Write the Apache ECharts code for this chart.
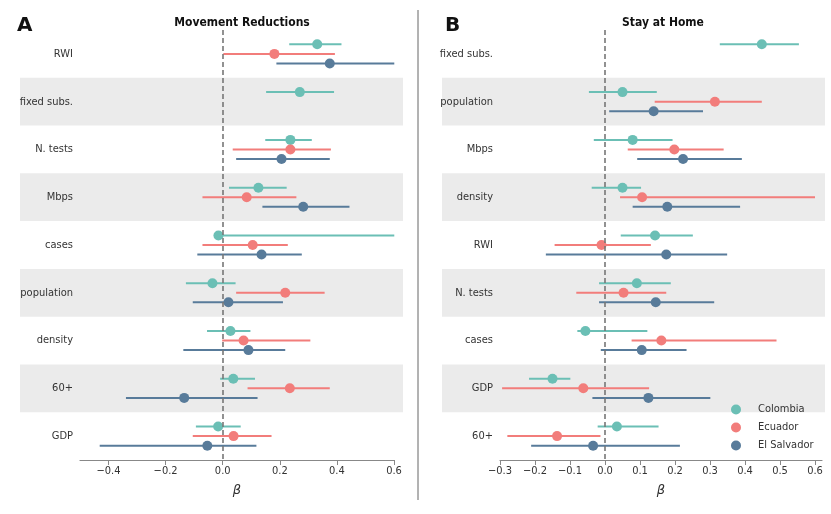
<!DOCTYPE html>
<html>
<head>
<meta charset="utf-8">
<script src="https://cdn.jsdelivr.net/npm/echarts@6/dist/echarts.min.js"></script>
<style>
  html, body { margin: 0; padding: 0; background: #fff; }
  #chart { width: 831px; height: 514px; }
</style>
</head>
<body>
<div id="chart"></div>
<script>
// categories, top to bottom
var catsA = ['RWI', 'fixed subs.', 'N. tests', 'Mbps', 'cases', 'population', 'density', '60+', 'GDP'];
var catsB = ['fixed subs.', 'population', 'Mbps', 'density', 'RWI', 'N. tests', 'cases', 'GDP', '60+'];

var countries = ['Colombia', 'Ecuador', 'El Salvador'];
var colors = ['#6bbfb5', '#f27d7b', '#587b9a'];

// A - Movement Reductions
var colA_mid = [0.331, 0.270, 0.237, 0.125, -0.015, -0.036, 0.027, 0.037, -0.016];
var colA_lo  = [0.233, 0.152, 0.149, 0.022, -0.029, -0.129, -0.055, -0.009, -0.094];
var colA_hi  = [0.416, 0.390, 0.312, 0.224, 0.601, 0.045, 0.097, 0.113, 0.063];

var ecuA_mid = [0.181, null, 0.237, 0.084, 0.105, 0.219, 0.073, 0.235, 0.038];
var ecuA_lo  = [0.002, null, 0.035, -0.071, -0.071, 0.047, -0.002, 0.087, -0.105];
var ecuA_hi  = [0.393, null, 0.379, 0.258, 0.228, 0.357, 0.307, 0.375, 0.171];

var slvA_mid = [0.375, null, 0.206, 0.282, 0.136, 0.020, 0.090, -0.135, -0.054];
var slvA_lo  = [0.188, null, 0.047, 0.139, -0.089, -0.105, -0.138, -0.339, -0.431];
var slvA_hi  = [0.601, null, 0.375, 0.444, 0.277, 0.211, 0.219, 0.122, 0.118];

// B - Stay at Home
var colB_mid = [0.448, 0.050, 0.079, 0.050, 0.143, 0.091, -0.056, -0.150, 0.034];
var colB_lo  = [0.328, -0.046, -0.032, -0.038, 0.045, -0.017, -0.079, -0.217, -0.021];
var colB_hi  = [0.554, 0.148, 0.193, 0.103, 0.251, 0.188, 0.121, -0.099, 0.153];

var ecuB_mid = [null, 0.314, 0.198, 0.106, -0.010, 0.053, 0.161, -0.062, -0.137];
var ecuB_lo  = [null, 0.142, 0.065, 0.043, -0.144, -0.082, 0.076, -0.294, -0.279];
var ecuB_hi  = [null, 0.448, 0.339, 0.600, 0.131, 0.175, 0.490, 0.126, -0.013];

var slvB_mid = [null, 0.139, 0.223, 0.178, 0.175, 0.145, 0.105, 0.124, -0.034];
var slvB_lo  = [null, 0.012, 0.092, 0.079, -0.169, -0.017, -0.012, -0.036, -0.211];
var slvB_hi  = [null, 0.280, 0.391, 0.386, 0.349, 0.312, 0.233, 0.301, 0.214];

var ticksA = [-0.4, -0.2, 0.0, 0.2, 0.4, 0.6];
var ticksB = [-0.3, -0.2, -0.1, 0.0, 0.1, 0.2, 0.3, 0.4, 0.5, 0.6];

var offsets = [-0.2, 0, 0.2];   // vertical offset of each country inside a row

var FONT = "'Liberation Sans Narrow', 'DejaVu Sans Condensed', sans-serif";

var chart = echarts.init(document.getElementById('chart'));

function fmtTick(v) {
    return v.toFixed(1).replace('-', '\u2212');
}

function barData(lo, hi, k) {
    var out = [];
    for (var i = 0; i < lo.length; i++) {
        if (lo[i] == null) continue;
        out.push([lo[i], hi[i], i + offsets[k]]);
    }
    return out;
}

function dotData(mid, k) {
    var out = [];
    for (var i = 0; i < mid.length; i++) {
        if (mid[i] == null) continue;
        out.push([mid[i], i + offsets[k]]);
    }
    return out;
}

function bandAxes(cats, gi) {
    return {
        type: 'category', gridIndex: gi, data: cats, inverse: true,
        axisLine: { show: false }, axisTick: { show: false }, axisLabel: { show: false },
        splitLine: { show: false },
        splitArea: { show: true, areaStyle: { color: ['rgba(0,0,0,0)', '#ebebeb'] } }
    };
}

function labelAxis(cats, gi) {
    return {
        type: 'category', gridIndex: gi, data: cats, inverse: true,
        axisLine: { show: false }, axisTick: { show: false },
        axisLabel: { margin: 7, color: '#333', fontSize: 11, fontFamily: FONT },
        splitLine: { show: false }
    };
}

function valueYAxis(gi) {
    return { type: 'value', gridIndex: gi, min: -0.5, max: 8.5, inverse: true, show: false };
}

function dataXAxis(gi, min, max, ticks) {
    return {
        type: 'value', gridIndex: gi, min: min, max: max,
        name: '\u03b2', nameLocation: 'middle', nameGap: 24,
        nameTextStyle: { fontStyle: 'italic', fontSize: 13, color: '#333', fontFamily: 'DejaVu Sans' },
        axisLine: { show: true, onZero: false, lineStyle: { color: '#888', width: 1.2 } },
        axisTick: { show: true, length: 5, customValues: ticks, lineStyle: { color: '#888' } },
        axisLabel: { customValues: ticks, formatter: fmtTick, color: '#333', fontSize: 11, fontFamily: FONT, margin: 6 },
        splitLine: { show: false }
    };
}

function panelSeries(mids, los, his, xi, yi) {
    var out = [];
    for (var k = 0; k < 3; k++) {
        (function (k) {
            out.push({
                name: countries[k],
                type: 'custom',
                xAxisIndex: xi, yAxisIndex: yi,
                encode: { x: [0, 1], y: 2 },
                itemStyle: { color: colors[k] },
                data: barData(los[k], his[k], k),
                renderItem: function (params, api) {
                    var a = api.coord([api.value(0), api.value(2)]);
                    var b = api.coord([api.value(1), api.value(2)]);
                    return {
                        type: 'line',
                        shape: { x1: a[0], y1: a[1], x2: b[0], y2: b[1] },
                        style: { stroke: colors[k], lineWidth: 2 }
                    };
                },
                z: 2
            });
            var s = {
                name: countries[k],
                type: 'scatter',
                xAxisIndex: xi, yAxisIndex: yi,
                symbol: 'circle', symbolSize: 10,
                itemStyle: { color: colors[k], opacity: 1 },
                data: dotData(mids[k], k),
                z: 3
            };
            if (k == 0) {
                s.markLine = {
                    silent: true, symbol: 'none', label: { show: false },
                    lineStyle: { color: '#777', type: [5, 3], width: 1.6 },
                    data: [{ xAxis: 0 }]
                };
            }
            out.push(s);
        })(k);
    }
    return out;
}

var option = {
    backgroundColor: '#fff',
    animation: false,
    textStyle: { fontFamily: FONT },
    title: [
        { text: 'A', left: 12, top: 11, textStyle: { fontSize: 20, fontWeight: 'bold', color: '#111', fontFamily: 'DejaVu Sans' } },
        { text: 'B', left: 440, top: 11, textStyle: { fontSize: 20, fontWeight: 'bold', color: '#111', fontFamily: 'DejaVu Sans' } },
        { text: 'Movement Reductions', left: 237, top: 12, textAlign: 'center', textStyle: { fontSize: 12, fontWeight: 'bold', color: '#111', fontFamily: FONT } },
        { text: 'Stay at Home', left: 658, top: 12, textAlign: 'center', textStyle: { fontSize: 12, fontWeight: 'bold', color: '#111', fontFamily: FONT } }
    ],
    legend: {
        orient: 'vertical', left: 726, top: 399,
        itemWidth: 10, itemHeight: 10, itemGap: 7,
        data: countries.map(function (c, i) { return { name: c, icon: 'circle', itemStyle: { color: colors[i] } }; }),
        textStyle: { fontSize: 11, lineHeight: 10, color: '#333', fontFamily: FONT, padding: [0, 0, 0, 12] }
    },
    grid: [
        { left: 20, width: 383, top: 30, height: 430 },
        { left: 80, width: 314, top: 30, height: 430 },
        { left: 442, width: 383, top: 30, height: 430 },
        { left: 500, width: 322, top: 30, height: 430 }
    ],
    xAxis: [
        { type: 'value', gridIndex: 0, show: false },
        dataXAxis(1, -0.5, 0.6, ticksA),
        { type: 'value', gridIndex: 2, show: false },
        dataXAxis(3, -0.3, 0.62, ticksB)
    ],
    yAxis: [
        bandAxes(catsA, 0),
        labelAxis(catsA, 1),
        valueYAxis(1),
        bandAxes(catsB, 2),
        labelAxis(catsB, 3),
        valueYAxis(3)
    ],
    graphic: [
        { type: 'line', shape: { x1: 418, y1: 10, x2: 418, y2: 500 }, style: { stroke: '#666', lineWidth: 1 } }
    ],
    series: []
        .concat(panelSeries([colA_mid, ecuA_mid, slvA_mid], [colA_lo, ecuA_lo, slvA_lo], [colA_hi, ecuA_hi, slvA_hi], 1, 2))
        .concat(panelSeries([colB_mid, ecuB_mid, slvB_mid], [colB_lo, ecuB_lo, slvB_lo], [colB_hi, ecuB_hi, slvB_hi], 3, 5))
};

chart.setOption(option);
</script>
</body>
</html>
